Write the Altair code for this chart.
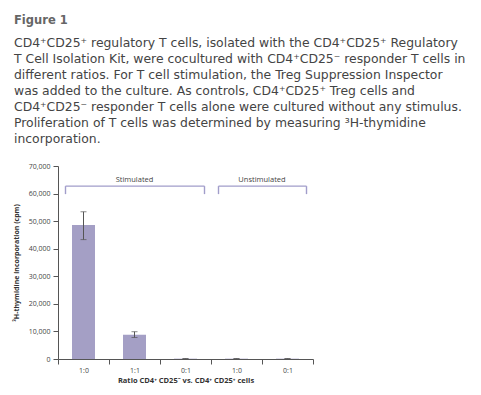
import altair as alt
import pandas as pd

# ---- data ----
ratios = ["1:0", "1:1", "0:1", "1:0", "0:1"]
conditions = ["Stimulated", "Stimulated", "Stimulated", "Unstimulated", "Unstimulated"]
cpm = [48600, 8800, 120, 120, 120]
err_low = [43300, 7800, 60, 60, 60]
err_high = [53400, 9900, 180, 180, 180]

y_ticks = [0, 10000, 20000, 30000, 40000, 50000, 60000, 70000]

heading = "Figure 1"
paragraph = [
    "CD4⁺CD25⁺ regulatory T cells, isolated with the CD4⁺CD25⁺ Regulatory",
    "T Cell Isolation Kit, were cocultured with CD4⁺CD25⁻ responder T cells in",
    "different ratios. For T cell stimulation, the Treg Suppression Inspector",
    "was added to the culture. As controls, CD4⁺CD25⁺ Treg cells and",
    "CD4⁺CD25⁻ responder T cells alone were cultured without any stimulus.",
    "Proliferation of T cells was determined by measuring ³H-thymidine",
    "incorporation.",
]
y_title = "³H-thymidine incorporation (cpm)"
x_title = "Ratio CD4⁺ CD25⁻ vs. CD4⁺ CD25⁺ cells"

bracket_level = 62700
bracket_foot = 59800
bracket_label_level = 64900

# ---- tables ----
df = pd.DataFrame({
    "idx": list(range(len(ratios))),
    "ratio": ratios,
    "condition": conditions,
    "cpm": cpm,
    "lo": err_low,
    "hi": err_high,
})

groups = []
for cond in dict.fromkeys(conditions):
    ids = [i for i, c in enumerate(conditions) if c == cond]
    groups.append((cond, ids[0], ids[-1]))
br = pd.DataFrame({"label": [g[0] for g in groups],
                   "start": [g[1] for g in groups],
                   "end": [g[2] for g in groups]})

label_expr = "[" + ",".join("'%s'" % r for r in ratios) + "][datum.value]"

FONT = "Open Sans"
BAR = "#a49fc5"
BRK = "#a19dca"
AX = "#555555"
LAB = "#444444"

x_scale = alt.Scale(paddingInner=0, paddingOuter=0)
x_axis = alt.Axis(
    title=x_title, labelExpr=label_expr, labelAngle=0, tickBand="extent",
    tickSize=5, labelPadding=2, labelFontSize=7, labelColor=LAB,
    titleFontSize=7.5, titleFontWeight="bold", titleColor="#333",
    titlePadding=3, domainColor=AX, tickColor=AX, labelFont=FONT, titleFont=FONT,
)
y_scale = alt.Scale(domain=[0, 70000], nice=False)
y_axis = alt.Axis(
    title=y_title, values=y_ticks, format=",.0f", grid=False, tickSize=5,
    labelPadding=3, labelFontSize=7, labelColor=LAB, titleFontSize=7,
    titleFontWeight="bold", titleColor="#333", titlePadding=9,
    domainColor=AX, tickColor=AX, labelFont=FONT, titleFont=FONT,
)


def xf(field):
    return alt.X(field, scale=x_scale, axis=x_axis)


def yd(v):
    return alt.Y(datum=v, type="quantitative", scale=y_scale, axis=y_axis)


bars = alt.Chart(df).mark_bar(size=23, color=BAR).encode(
    x=xf("idx:O"), y=alt.Y("cpm:Q", scale=y_scale, axis=y_axis)
)

errs = alt.Chart(df).mark_errorbar(
    ticks=alt.MarkConfig(size=6, color="#555"), color="#555", thickness=1
).encode(x=xf("idx:O"), y=alt.Y("lo:Q", scale=y_scale, axis=y_axis), y2="hi:Q")

brk_line = alt.Chart(br).mark_rule(color=BRK, strokeWidth=1.4, xOffset=-18, x2Offset=19).encode(
    x=xf("start:O"), x2="end", y=yd(bracket_level)
)
brk_left = alt.Chart(br).mark_rule(color=BRK, strokeWidth=1.4, xOffset=-18).encode(
    x=xf("start:O"), y=yd(bracket_level), y2=alt.datum(bracket_foot)
)
brk_right = alt.Chart(br).mark_rule(color=BRK, strokeWidth=1.4, xOffset=19).encode(
    x=xf("end:O"), y=yd(bracket_level), y2=alt.datum(bracket_foot)
)

label_layers = []
for cond, s, e in groups:
    mid = (s + e) / 2.0
    base = int(mid)
    bp = 0.5 + (mid - base)
    sub = pd.DataFrame({"idx": [base], "label": [cond]})
    label_layers.append(
        alt.Chart(sub).mark_text(font=FONT, fontSize=7.5, color="#444", baseline="middle").encode(
            x=alt.X("idx:O", bandPosition=bp, scale=x_scale, axis=x_axis),
            y=yd(bracket_label_level), text="label:N"
        )
    )

chart = alt.layer(bars, errs, brk_line, brk_left, brk_right, *label_layers).properties(
    width=255,
    height=193,
    autosize=alt.AutoSizeParams(type="none"),
    padding={"left": 50, "top": 158, "right": 160, "bottom": 28},
    title=alt.TitleParams(
        text=heading, subtitle=paragraph, anchor="start", frame="group",
        font="DejaVu Sans", fontSize=11.5, fontWeight="bold", color="#666666",
        subtitleFont="DejaVu Sans", subtitleFontSize=12.4, subtitleColor="#444444",
        subtitleLineHeight=16, subtitlePadding=11, offset=16.5, dx=-44,
    ),
).configure_view(stroke=None)

chart.save("out.html", embed_options={"renderer": "svg", "actions": False})
